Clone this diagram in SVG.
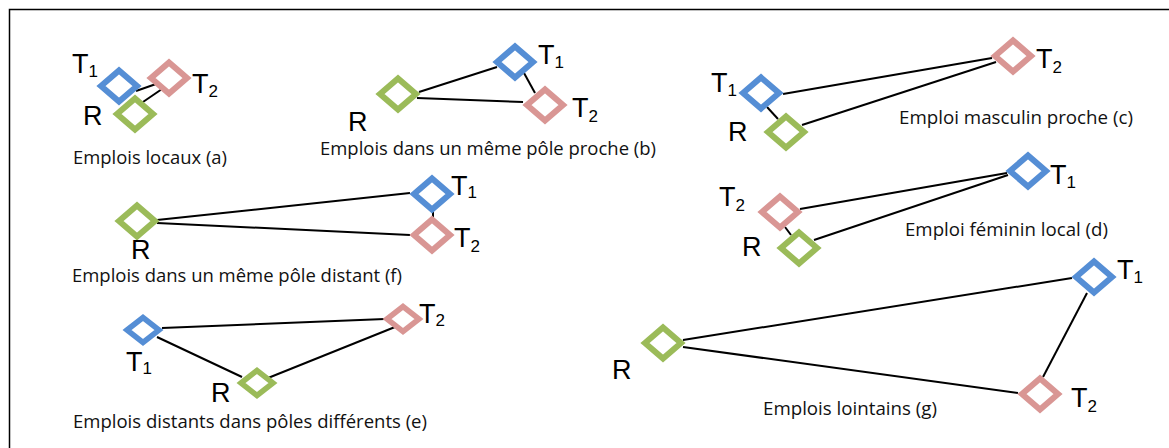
<svg xmlns="http://www.w3.org/2000/svg" xmlns:xlink="http://www.w3.org/1999/xlink" width="1169" height="448" viewBox="0 0 1169 448">
<style>
.lbl{font-family:"Liberation Sans",Arial,sans-serif;font-size:27px;fill:#000}
.sub{font-size:17px}
.cap{font-family:"Open Sans","Noto Sans",sans-serif;font-size:17.5px;fill:#111}
.blue{stroke:#558ED5;fill:#fff}
.pink{stroke:#D99694;fill:#fff}
.green{stroke:#9BBB59;fill:#fff}
.d{stroke-width:6;stroke-linejoin:miter}
.ds{stroke-width:5.5;stroke-linejoin:miter}
#connectors line{stroke:#000;stroke-width:2}
</style>
<defs>
<path id="dL" d="M-18,0 L0,-15.5 L18,0 L0,15.5 Z"/>
<path id="dS" d="M-16,0 L0,-12.5 L16,0 L0,12.5 Z"/>
</defs>
<rect x="9.5" y="9.5" width="1175" height="460" fill="#fff" stroke="#000" stroke-width="1.5"/>
<g id="connectors">
<line x1="136" y1="91" x2="156" y2="84"/>
<line x1="140" y1="104" x2="162" y2="89"/>
<line x1="419" y1="92" x2="497" y2="67"/>
<line x1="417" y1="98" x2="523" y2="102"/>
<line x1="524" y1="73" x2="535" y2="93"/>
<line x1="783" y1="94" x2="992" y2="58"/>
<line x1="802" y1="125" x2="996" y2="62"/>
<line x1="767" y1="107" x2="778" y2="119"/>
<line x1="800" y1="209" x2="1007" y2="173"/>
<line x1="814" y1="240" x2="1008" y2="175"/>
<line x1="785" y1="227" x2="791" y2="235"/>
<line x1="157" y1="220" x2="410" y2="193"/>
<line x1="157" y1="223" x2="410" y2="235"/>
<line x1="433" y1="211" x2="433" y2="219"/>
<line x1="162" y1="328" x2="385" y2="319"/>
<line x1="157" y1="337" x2="242" y2="377"/>
<line x1="268" y1="378" x2="395" y2="327"/>
<line x1="683" y1="340" x2="1072" y2="278"/>
<line x1="683" y1="347" x2="1018" y2="393"/>
<line x1="1087" y1="293" x2="1043" y2="377"/>
</g>
<g id="panel-a">
<use xlink:href="#dL" x="119" y="86" class="blue d"/>
<use xlink:href="#dL" x="169" y="78" class="pink d"/>
<use xlink:href="#dL" x="135" y="114" class="green d"/>
<text class="lbl" x="72" y="73">T<tspan class="sub" dy="4">1</tspan></text>
<text class="lbl" x="192" y="93">T<tspan class="sub" dy="4">2</tspan></text>
<text class="lbl" x="83" y="125">R</text>
<text class="cap" x="73" y="164" textLength="154" lengthAdjust="spacingAndGlyphs">Emplois locaux (a)</text>
</g>
<g id="panel-b">
<use xlink:href="#dL" x="398" y="94" class="green d"/>
<use xlink:href="#dL" x="515" y="62" class="blue d"/>
<use xlink:href="#dL" x="545" y="105" class="pink d"/>
<text class="lbl" x="538" y="64">T<tspan class="sub" dy="4">1</tspan></text>
<text class="lbl" x="572" y="117">T<tspan class="sub" dy="5">2</tspan></text>
<text class="lbl" x="348" y="131">R</text>
<text class="cap" x="320" y="155" textLength="336" lengthAdjust="spacingAndGlyphs">Emplois dans un même pôle proche (b)</text>
</g>
<g id="panel-c">
<use xlink:href="#dL" x="1013" y="56" class="pink d"/>
<use xlink:href="#dL" x="761" y="93" class="blue d"/>
<use xlink:href="#dL" x="786" y="132" class="green d"/>
<text class="lbl" x="711" y="92">T<tspan class="sub" dy="4">1</tspan></text>
<text class="lbl" x="1036" y="68">T<tspan class="sub" dy="5">2</tspan></text>
<text class="lbl" x="728" y="141">R</text>
<text class="cap" x="899" y="124" textLength="234" lengthAdjust="spacingAndGlyphs">Emploi masculin proche (c)</text>
</g>
<g id="panel-d">
<use xlink:href="#dL" x="1028" y="171" class="blue d"/>
<use xlink:href="#dL" x="780" y="212" class="pink d"/>
<use xlink:href="#dL" x="799" y="248" class="green d"/>
<text class="lbl" x="1050" y="184">T<tspan class="sub" dy="4">1</tspan></text>
<text class="lbl" x="719" y="206">T<tspan class="sub" dy="5">2</tspan></text>
<text class="lbl" x="742" y="256">R</text>
<text class="cap" x="905" y="236" textLength="203" lengthAdjust="spacingAndGlyphs">Emploi féminin local (d)</text>
</g>
<g id="panel-f">
<use xlink:href="#dL" x="137" y="221" class="green d"/>
<use xlink:href="#dL" x="432" y="194" class="blue d"/>
<use xlink:href="#dL" x="432" y="235" class="pink d"/>
<text class="lbl" x="451" y="195">T<tspan class="sub" dy="3">1</tspan></text>
<text class="lbl" x="454" y="247">T<tspan class="sub" dy="5">2</tspan></text>
<text class="lbl" x="131" y="259">R</text>
<text class="cap" x="72" y="282" textLength="330" lengthAdjust="spacingAndGlyphs">Emplois dans un même pôle distant (f)</text>
</g>
<g id="panel-e">
<use xlink:href="#dS" x="143" y="330" class="blue ds"/>
<use xlink:href="#dS" x="403" y="319" class="pink ds"/>
<use xlink:href="#dS" x="257" y="383" class="green ds"/>
<text class="lbl" x="126" y="371">T<tspan class="sub" dy="3">1</tspan></text>
<text class="lbl" x="419" y="323">T<tspan class="sub" dy="3">2</tspan></text>
<text class="lbl" x="211" y="402">R</text>
<text class="cap" x="73" y="428" textLength="354" lengthAdjust="spacingAndGlyphs">Emplois distants dans pôles différents (e)</text>
</g>
<g id="panel-g">
<use xlink:href="#dL" x="663" y="343" class="green d"/>
<use xlink:href="#dL" x="1094" y="277" class="blue d"/>
<use xlink:href="#dL" x="1040" y="394" class="pink d"/>
<text class="lbl" x="1117" y="279">T<tspan class="sub" dy="4">1</tspan></text>
<text class="lbl" x="1071" y="407">T<tspan class="sub" dy="5">2</tspan></text>
<text class="lbl" x="612" y="379">R</text>
<text class="cap" x="763" y="415" textLength="174" lengthAdjust="spacingAndGlyphs">Emplois lointains (g)</text>
</g>
</svg>
